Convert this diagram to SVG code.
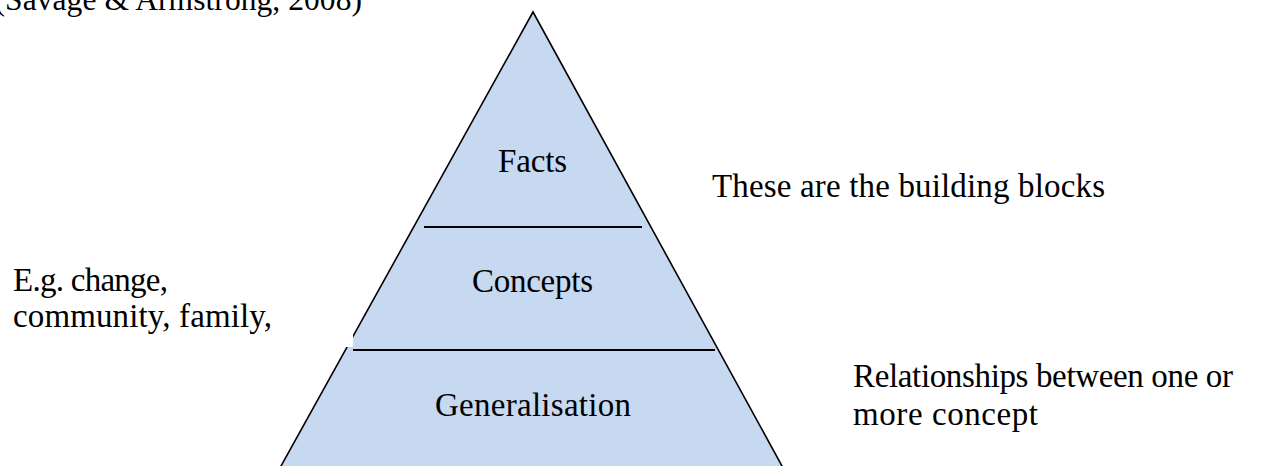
<svg xmlns="http://www.w3.org/2000/svg" width="1277" height="466" viewBox="0 0 1277 466">
<style>
.t{font-family:"Liberation Serif","DejaVu Serif",serif;font-size:33px;fill:#000}
.c{text-anchor:middle}
.div{stroke:#000;stroke-width:1.8;fill:none}
</style>
<rect x="0" y="0" width="1277" height="466" fill="#fff"/>
<g id="citation">
<text x="-5.5" y="10" font-family="'Liberation Serif',serif" font-size="31.5" textLength="367.5">(Savage &amp; Armstrong, 2008)</text>
</g>
<g id="pyramid">
<polygon points="533,12 278.8,470 784.2,470" fill="#C6D9F1" stroke="#000" stroke-width="1.6" stroke-linejoin="miter"/>
</g>
<g id="connectors">
<line class="div" x1="424" y1="227" x2="642" y2="227"/>
<line class="div" x1="353" y1="350" x2="715" y2="350"/>
</g>
<g id="facts"><text class="t c" x="532.5" y="172" textLength="69">Facts</text></g>
<g id="concepts"><text class="t c" x="532.5" y="292" textLength="121">Concepts</text></g>
<g id="generalisation"><text class="t c" x="533" y="416" textLength="196">Generalisation</text></g>
<g id="note-facts"><text class="t" x="712" y="197" textLength="393">These are the building blocks</text></g>
<g id="note-concepts">
<rect x="0" y="250" width="353" height="97" fill="#fff"/>
<text class="t" x="13" y="291" textLength="155">E.g. change,</text>
<text class="t" x="13" y="327" textLength="259">community, family,</text>
</g>
<g id="note-generalisation">
<text class="t" x="853" y="387" textLength="380">Relationships between one or</text>
<text class="t" x="853" y="425" textLength="185">more concept</text>
</g>
</svg>
